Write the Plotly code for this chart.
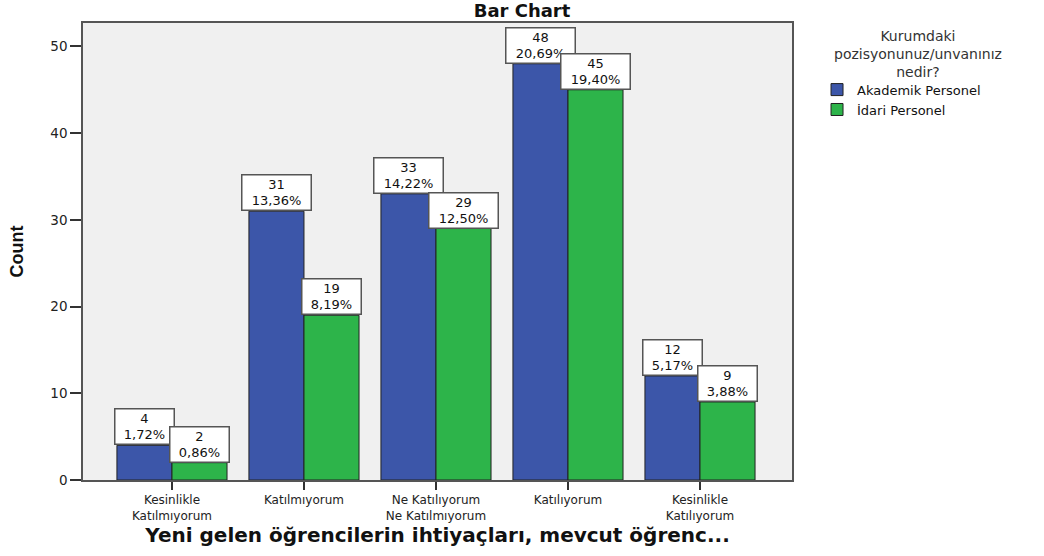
import plotly.graph_objects as go

categories = ["Kesinlikle<br>Katılmıyorum", "Katılmıyorum", "Ne Katılıyorum<br>Ne Katılmıyorum",
              "Katılıyorum", "Kesinlikle<br>Katılıyorum"]
akademik = [4, 31, 33, 48, 12]
idari = [2, 19, 29, 45, 9]
akademik_pct = ["1,72%", "13,36%", "14,22%", "20,69%", "5,17%"]
idari_pct = ["0,86%", "8,19%", "12,50%", "19,40%", "3,88%"]
series_names = ["Akademik Personel", "İdari Personel"]
legend_title = "Kurumdaki<br>pozisyonunuz/unvanınız<br>nedir?"
x_title = "Yeni gelen öğrencilerin ihtiyaçları, mevcut öğrenc..."
y_title = "Count"
chart_title = "Bar Chart"
colors = ["#3c56a9", "#2db44a"]

FONT = "DejaVu Sans"
xidx = list(range(len(categories)))

fig = go.Figure()
fig.add_trace(go.Bar(x=xidx, y=akademik, name=series_names[0], marker_color=colors[0],
                     marker_line=dict(color="#222", width=1), offsetgroup=0))
fig.add_trace(go.Bar(x=xidx, y=idari, name=series_names[1], marker_color=colors[1],
                     marker_line=dict(color="#222", width=1), offsetgroup=1))

bw = 0.417
for i in xidx:
    for vals, pcts, off in ((akademik, akademik_pct, -bw / 2), (idari, idari_pct, bw / 2)):
        fig.add_annotation(x=i + off, y=vals[i], xref="x", yref="y",
                           text=f"{vals[i]}<br>{pcts[i]}", showarrow=False,
                           yanchor="bottom", xanchor="center", align="center",
                           width=10 * len(pcts[i]) + 6,
                           font=dict(family=FONT, size=13, color="#111"),
                           bgcolor="white", bordercolor="#555", borderwidth=1.5, borderpad=1)

# legend title (centered block, like the reference)
fig.add_annotation(x=1.1774, y=0.933, xref="paper", yref="paper", text=legend_title,
                   showarrow=False, xanchor="center", yanchor="middle", align="center",
                   font=dict(family=FONT, size=14, color="#333"))

fig.update_layout(
    width=1044, height=556,
    margin=dict(l=83, r=252, t=23, b=76),
    paper_bgcolor="white", plot_bgcolor="#f0f0f0",
    barmode="group", bargap=0.166, bargroupgap=0,
    font=dict(family=FONT, size=13, color="#222"),
    title=dict(text=f"<b>{chart_title}</b>", xref="container", x=0.5, xanchor="center",
               y=0.981, yanchor="middle",
               font=dict(family=FONT, size=18, color="#111")),
    legend=dict(
        x=1.0353, y=0.887, xanchor="left", yanchor="top",
        font=dict(family=FONT, size=13, color="#111"),
        bgcolor="rgba(0,0,0,0)", itemwidth=30, tracegroupgap=0,
    ),
    showlegend=True,
)
fig.update_xaxes(
    tickmode="array", tickvals=xidx, ticktext=categories,
    range=[-0.674, 4.697], showline=True, mirror=True, linecolor="#555", linewidth=1.5,
    ticks="outside", ticklen=8, tickcolor="#333", tickwidth=1.5, showgrid=False,
    tickfont=dict(family=FONT, size=12, color="#222"),
    title=dict(text=f"<b>{x_title}</b>",
               font=dict(family=FONT, size=20, color="#111"), standoff=5),
)
fig.update_yaxes(
    range=[0, 52.7], tickvals=[0, 10, 20, 30, 40, 50],
    showline=True, mirror=True, linecolor="#555", linewidth=1.5,
    ticks="outside", ticklen=11, tickcolor="#333", tickwidth=1.5, showgrid=False, zeroline=False,
    tickfont=dict(family=FONT, size=13.5, color="#222"),
    title=dict(text=f"<b>{y_title}</b>", font=dict(family="Liberation Sans", size=18, color="#111"),
               standoff=22),
)

fig.write_html("out.html")
